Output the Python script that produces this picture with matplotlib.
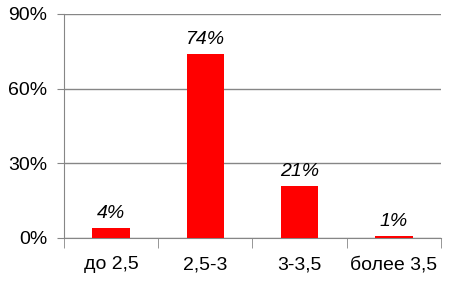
import matplotlib.pyplot as plt
import numpy as np

plt.rcParams['font.family'] = ['Liberation Sans', 'DejaVu Sans']

categories = ['до 2,5', '2,5-3', '3-3,5', 'более 3,5']
shares = [4, 74, 21, 1]
yticks = [0, 30, 60, 90]

x = np.arange(len(categories))

fig = plt.figure(figsize=(4.62, 2.82), dpi=100)
ax = fig.add_axes([64/462, 44/282, 377/462, 224/282])

bars = ax.bar(x, shares, 0.4, color='#ff0000', zorder=3)
ax.bar_label(bars, labels=[f'{v}%' for v in shares], padding=4,
             fontsize=14, fontstyle='italic')

ax.set_xlim(-0.5, len(categories) - 0.5)
ax.set_ylim(0, 90)
ax.set_yticks(yticks)
ax.set_yticklabels([f'{t}%' for t in yticks], fontsize=14)
ax.set_xticks(x)
ax.set_xticklabels(categories, fontsize=14)
ax.set_xticks(np.arange(len(categories) + 1) - 0.5, minor=True)

ax.grid(axis='y', color='#868686', linewidth=1, zorder=0)
for side in ['top', 'right']:
    ax.spines[side].set_visible(False)
for side in ['left', 'bottom']:
    ax.spines[side].set_color('#868686')
ax.tick_params(axis='y', length=5, color='#868686', pad=7)
ax.tick_params(axis='x', which='major', length=0, pad=13)
ax.tick_params(axis='x', which='minor', length=7, color='#868686')

fig.savefig('out.png', dpi=100)
